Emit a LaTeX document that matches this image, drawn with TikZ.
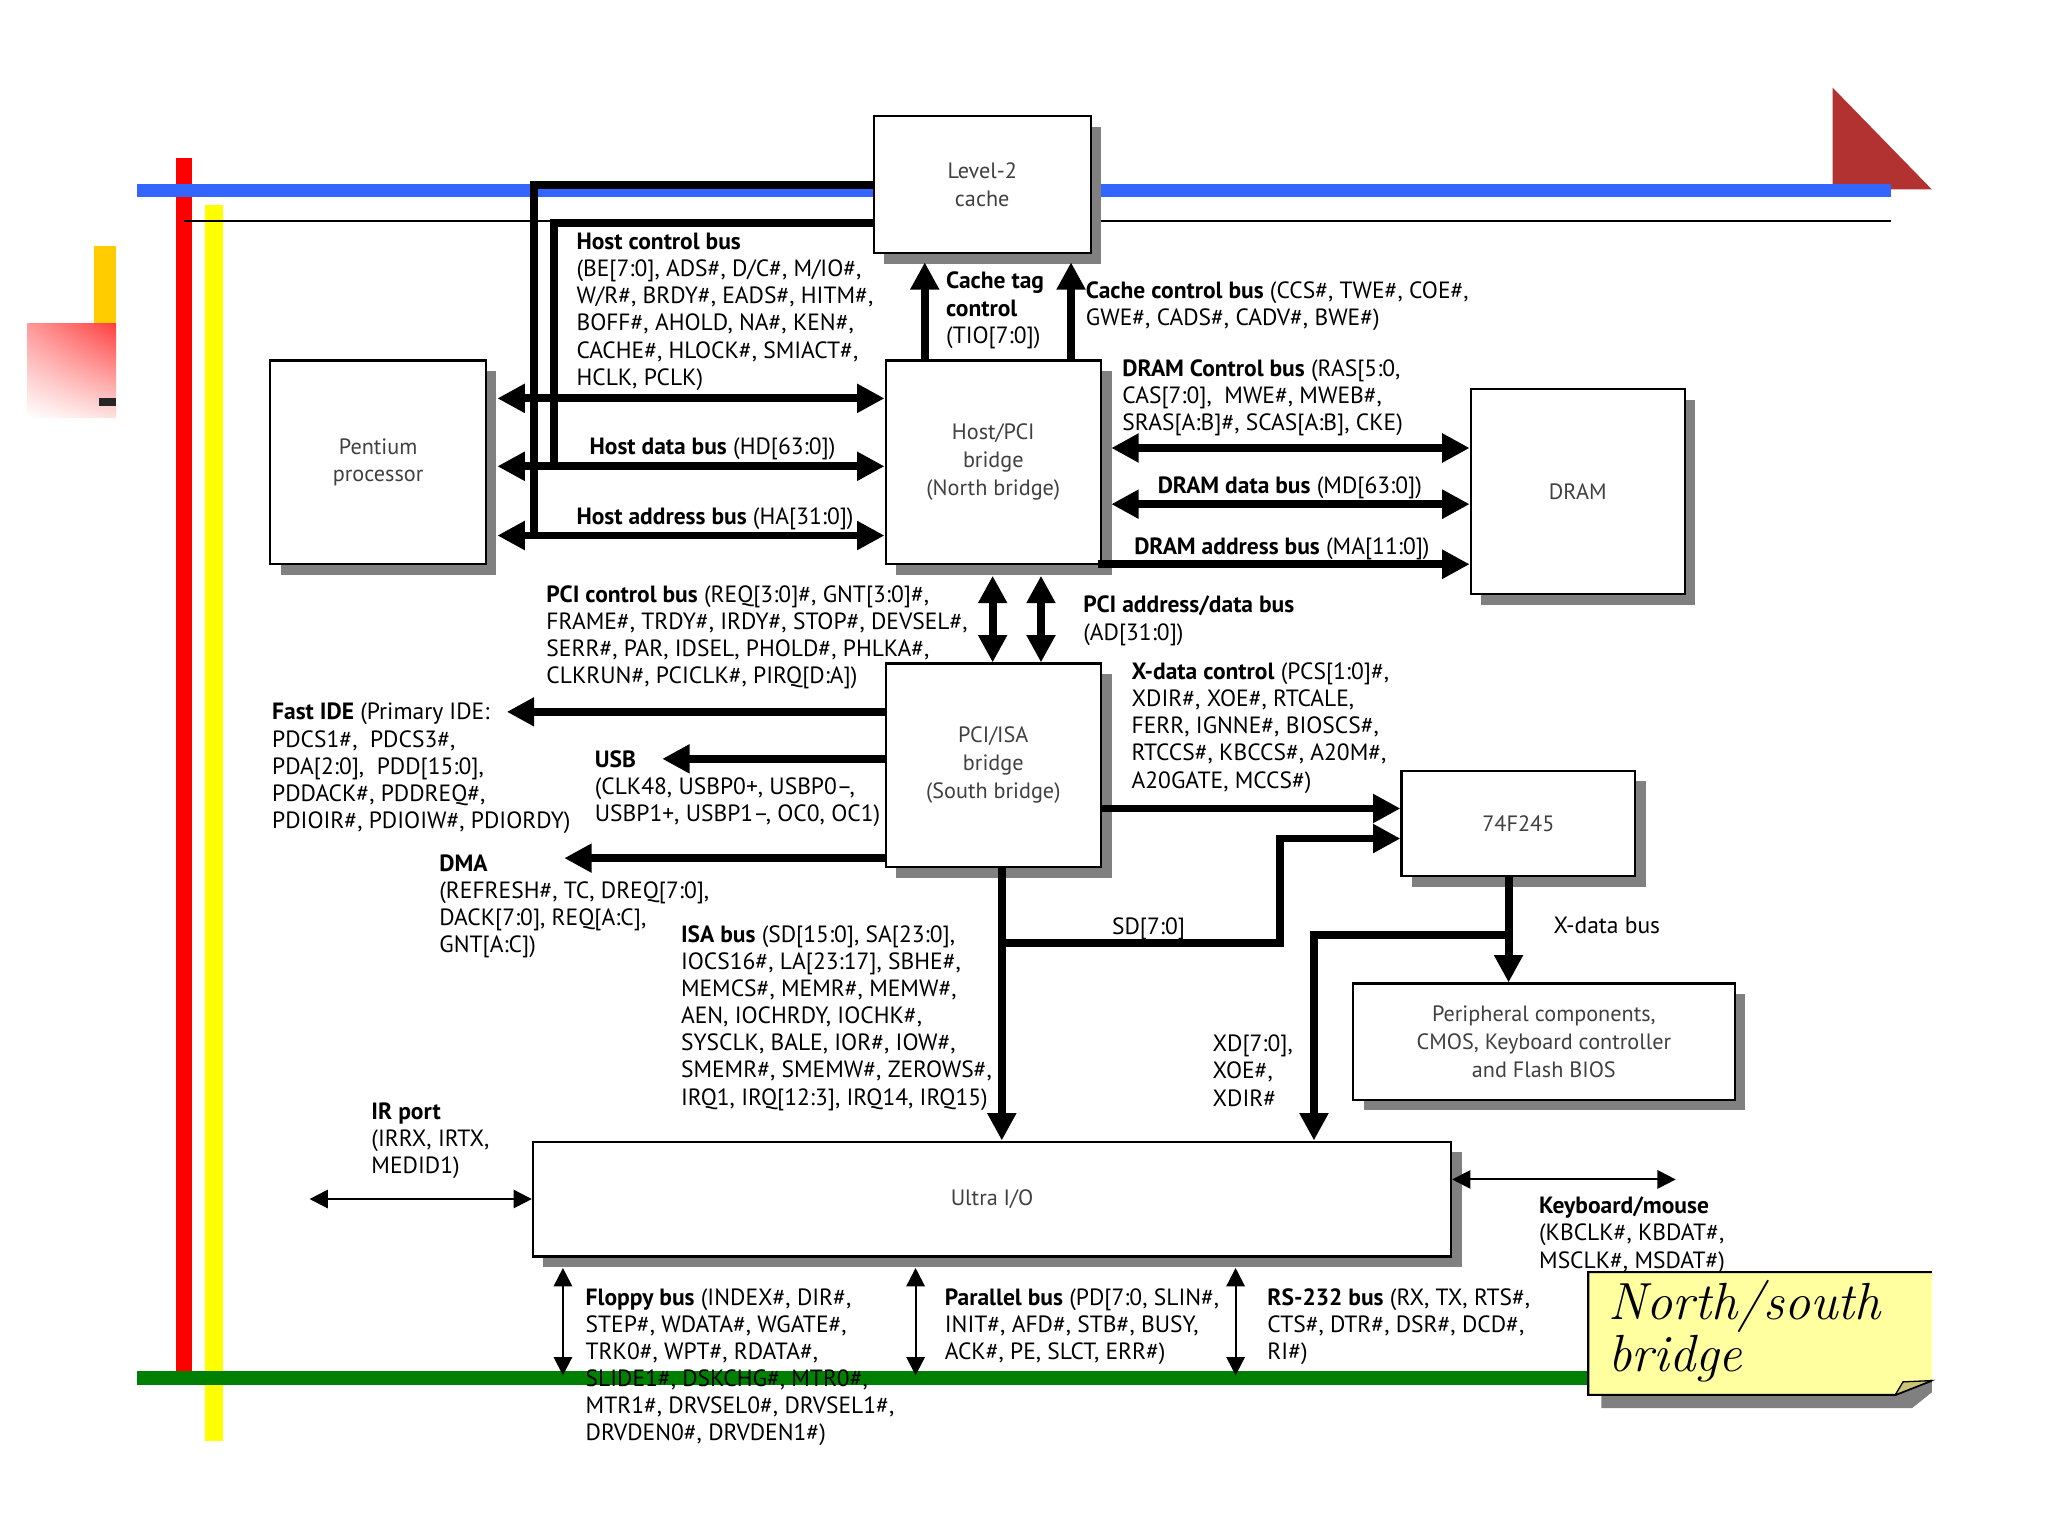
\documentclass[tikz,border=0pt]{standalone}
\usepackage{fontspec}
\newfontfamily\gillfont{PT Sans}
\usetikzlibrary{arrows.meta, calc, shadows, shadings}
\definecolor{slideblue}{RGB}{51, 102, 255}
\definecolor{slidered}{RGB}{255, 0, 0}
\definecolor{slideyellow}{RGB}{255, 255, 0}
\definecolor{slidegreen}{RGB}{0, 128, 0}
\definecolor{slidegold}{RGB}{255, 204, 0}
\definecolor{slidewine}{RGB}{178, 50, 50}
\definecolor{chipshadow}{RGB}{128, 128, 128}
\definecolor{notefill}{RGB}{255, 255, 160}
\definecolor{notefold}{RGB}{205, 195, 120}
\tikzset{
  chip/.style={rectangle, draw=black, line width=0.8pt, fill=white,
               minimum width=#1, inner sep=0pt, align=center, text=black!75,
               font=\gillfont\fontsize{8.5}{10.7}\selectfont,
               drop shadow={shadow xshift=4pt, shadow yshift=-4pt, opacity=1, fill=chipshadow}},
  chip/.default=82.5pt,
  sig/.style={anchor=north west, inner sep=0pt, align=left,
              font=\gillfont\fontsize{9}{10.4}\selectfont},
  bus/.style={line width=3pt, draw=black},
  bus2/.style={bus, {Triangle[length=10.5pt,width=10.5pt]}-{Triangle[length=10.5pt,width=10.5pt]}},
  bus1/.style={bus, -{Triangle[length=10.5pt,width=10.5pt]}},
  wire2/.style={line width=0.8pt, {Triangle[length=7pt,width=7pt]}-{Triangle[length=7pt,width=7pt]}},
}
\begin{document}
\begin{tikzpicture}[x=0.5pt, y=-0.5pt]
\fill[white] (0,0) rectangle (1568,1176);
\useasboundingbox (0,0) rectangle (1568,1176);
% slide decoration
\fill[slidewine] (1403,67) -- (1479,145) -- (1403,145) -- cycle;
\fill[slidegold] (72,188) rectangle (89,248);
\shade[upper left=red!40, upper right=red!75, lower left=white, lower right=red!12] (21,248) rectangle (89,320);
\fill[black!85] (76,305) rectangle (89,311);
\fill[slidered] (135,121) rectangle (147,1050);
\fill[slideyellow] (157,157) rectangle (171,1103);
\fill[slideblue] (105,141) rectangle (1448,151);
\draw[line width=0.7pt] (141,169) -- (1448,169);
\fill[slidegreen] (105,1050) rectangle (1216,1060);

\node[chip=83pt, minimum height=52.5pt] (l2) at (752,141.5) {Level-2\\cache};
\node[chip, minimum height=78pt] (cpu) at (289.5,354) {Pentium\\processor};
\node[chip, minimum height=78pt] (nb) at (760.5,354) {Host/PCI\\bridge\\(North bridge)};
\node[chip=82pt, minimum height=78.5pt] (dram) at (1208,376.5) {DRAM};
\node[chip, minimum height=78pt] (sb) at (760.5,586) {PCI/ISA\\bridge\\(South bridge)};
\node[chip=89.5pt, minimum height=40.5pt] (xbuf) at (1162.5,630.5) {74F245};
\node[chip=146pt, minimum height=44.5pt] (periph) at (1182,797.5) {Peripheral components,\\CMOS, Keyboard controller\\and Flash BIOS};
\node[chip=351.5pt, minimum height=44pt] (uio) at (759.5,918) {Ultra I/O};

% host side
\coordinate (hc) at (0,305);
\coordinate (hd) at (0,357);
\coordinate (ha) at (0,410);
\draw[bus2] ([xshift=4pt]cpu.east |- hc) -- (nb.west |- hc);
\draw[bus2] ([xshift=4pt]cpu.east |- hd) -- (nb.west |- hd);
\draw[bus2] ([xshift=4pt]cpu.east |- ha) -- (nb.west |- ha);
\coordinate (tapA) at (409,410);
\coordinate (tapD) at (424,357);
\draw[bus] (l2.west) -| (tapA);
\draw[bus] ([yshift=-14.75pt]l2.west) -| (tapD);
\draw[bus1] ([xshift=-26.25pt]nb.north) -- ([xshift=-26.25pt, yshift=-3pt]nb.north |- l2.south);
\draw[bus1] ([xshift=29.75pt]nb.north) -- ([xshift=29.75pt, yshift=-3pt]nb.north |- l2.south);

% memory side
\coordinate (mc) at (0,343);
\coordinate (md) at (0,386);
\coordinate (ma) at (0,432);
\draw[bus2] ([xshift=3.5pt]nb.east |- mc) -- (dram.west |- mc);
\draw[bus2] ([xshift=3.5pt]nb.east |- md) -- (dram.west |- md);
\draw[bus1] ([xshift=-1.5pt]nb.east |- ma) -- (dram.west |- ma);

% pci
\draw[bus2] ([xshift=-0.25pt, yshift=-4pt]nb.south) -- ([xshift=-0.25pt]sb.north);
\draw[bus2] ([xshift=18.25pt, yshift=-4pt]nb.south) -- ([xshift=18.25pt]sb.north);

% south bridge
\coordinate (ideEnd) at (388,545);
\coordinate (usbEnd) at (507,581);
\coordinate (dmaEnd) at (432,657);
\draw[bus1] (sb.west |- ideEnd) -- (ideEnd);
\draw[bus1] (sb.west |- usbEnd) -- (usbEnd);
\draw[bus1] (sb.west |- dmaEnd) -- (dmaEnd);
\coordinate (xdc) at (0,619);
\draw[bus1] (sb.east |- xdc) -- (xbuf.west |- xdc);
\draw[bus1] ([xshift=3.25pt]sb.south) -- ([xshift=3.25pt]sb.south |- uio.north);
\coordinate (sdTap) at (767,722);
\draw[bus1] (sdTap) -| ++(213,-80) -- ([yshift=-5.75pt]xbuf.west);
\draw[bus1] ([xshift=-3.75pt]xbuf.south) -- ([xshift=-3.75pt]xbuf.south |- periph.north);
\coordinate (xdTap) at (1155,716);
\draw[bus1] (xdTap) -| ([xshift=123.25pt]uio.north);

% ultra i/o
\coordinate (irEnd) at (237,918);
\coordinate (kbEnd) at (1283,903);
\coordinate (fdEnd) at (431,1053);
\coordinate (ppEnd) at (701,1053);
\coordinate (rsEnd) at (946,1053);
\draw[wire2] (irEnd) -- (uio.west);
\draw[wire2] (uio.east |- kbEnd) -- (kbEnd);
\draw[wire2] ([yshift=-4pt]uio.south -| fdEnd) -- (fdEnd);
\draw[wire2] ([yshift=-4pt]uio.south -| ppEnd) -- (ppEnd);
\draw[wire2] ([yshift=-4pt]uio.south -| rsEnd) -- (rsEnd);

\node[sig] (hcLbl) at (441,178) {\textbf{Host control bus}\\(BE[7:0], ADS\#, D/C\#, M/IO\#,\\W/R\#, BRDY\#, EADS\#, HITM\#,\\BOFF\#, AHOLD, NA\#, KEN\#,\\CACHE\#, HLOCK\#, SMIACT\#,\\HCLK, PCLK)};
\node[sig] (hdLbl) at (451,335) {\textbf{Host data bus} (HD[63:0])};
\node[sig] (haLbl) at (441,388) {\textbf{Host address bus} (HA[31:0])};
\node[sig] (ctagLbl) at (724,208) {\textbf{Cache tag}\\\textbf{control}\\(TIO[7:0])};
\node[sig] (cctlLbl) at (831,215) {\textbf{Cache control bus} (CCS\#, TWE\#, COE\#,\\GWE\#, CADS\#, CADV\#, BWE\#)};
\node[sig] (mcLbl) at (859,275) {\textbf{DRAM Control bus} (RAS[5:0,\\CAS[7:0],~~MWE\#, MWEB\#,\\SRAS[A:B]\#, SCAS[A:B], CKE)};
\node[sig] (mdLbl) at (886,365) {\textbf{DRAM data bus} (MD[63:0])};
\node[sig] (maLbl) at (868,411) {\textbf{DRAM address bus} (MA[11:0])};
\node[sig] (pcLbl) at (418,448) {\textbf{PCI control bus} (REQ[3:0]\#, GNT[3:0]\#,\\FRAME\#, TRDY\#, IRDY\#, STOP\#, DEVSEL\#,\\SERR\#, PAR, IDSEL, PHOLD\#, PHLKA\#,\\CLKRUN\#, PCICLK\#, PIRQ[D:A])};
\node[sig] (adLbl) at (829,456) {\textbf{PCI address/data bus}\\(AD[31:0])};
\node[sig] (ideLbl) at (208,538) {\textbf{Fast IDE} (Primary IDE:\\PDCS1\#,~~PDCS3\#,\\PDA[2:0],~~PDD[15:0],\\PDDACK\#, PDDREQ\#,\\PDIOIR\#, PDIOIW\#, PDIORDY)};
\node[sig] (usbLbl) at (455,574) {\textbf{USB}\\(CLK48, USBP0+, USBP0–,\\USBP1+, USBP1–, OC0, OC1)};
\node[sig] (dmaLbl) at (336,654) {\textbf{DMA}\\(REFRESH\#, TC, DREQ[7:0],\\DACK[7:0], REQ[A:C],\\GNT[A:C])};
\node[sig] (xdcLbl) at (866,507) {\textbf{X-data control} (PCS[1:0]\#,\\XDIR\#, XOE\#, RTCALE,\\FERR, IGNNE\#, BIOSCS\#,\\RTCCS\#, KBCCS\#, A20M\#,\\A20GATE, MCCS\#)};
\node[sig] (isaLbl) at (521,708) {\textbf{ISA bus} (SD[15:0], SA[23:0],\\IOCS16\#, LA[23:17], SBHE\#,\\MEMCS\#, MEMR\#, MEMW\#,\\AEN, IOCHRDY, IOCHK\#,\\SYSCLK, BALE, IOR\#, IOW\#,\\SMEMR\#, SMEMW\#, ZEROWS\#,\\IRQ1, IRQ[12:3], IRQ14, IRQ15)};
\node[sig] (sdLbl) at (851,702) {SD[7:0]};
\node[sig] (xbLbl) at (1189,702) {X-data bus};
\node[sig] (xdLbl) at (928,792) {XD[7:0],\\XOE\#,\\XDIR\#};
\node[sig] (irLbl) at (284,844) {\textbf{IR port}\\(IRRX, IRTX,\\MEDID1)};
\node[sig] (kbLbl) at (1178,916) {\textbf{Keyboard/mouse}\\(KBCLK\#, KBDAT\#,\\MSCLK\#, MSDAT\#)};
\node[sig] (fdLbl) at (448,986) {\textbf{Floppy bus} (INDEX\#, DIR\#,\\STEP\#, WDATA\#, WGATE\#,\\TRK0\#, WPT\#, RDATA\#,\\SLIDE1\#, DSKCHG\#, MTR0\#,\\MTR1\#, DRVSEL0\#, DRVSEL1\#,\\DRVDEN0\#, DRVDEN1\#)};
\node[sig] (ppLbl) at (723,986) {\textbf{Parallel bus} (PD[7:0, SLIN\#,\\INIT\#, AFD\#, STB\#, BUSY,\\ACK\#, PE, SLCT, ERR\#)};
\node[sig] (rsLbl) at (970,986) {\textbf{RS-232 bus} (RX, TX, RTS\#,\\CTS\#, DTR\#, DSR\#, DCD\#,\\RI\#)};

% sticky note
\fill[chipshadow] (1226,984) -- (1479,984) -- (1479,1066) -- (1464,1078) -- (1226,1078) -- cycle;
\filldraw[fill=notefill, draw=black, line width=0.8pt] (1479,974) -- (1216,974) -- (1216,1068) -- (1451,1068) -- (1479,1057);
\filldraw[fill=notefold, draw=black, line width=0.5pt] (1451,1068) -- (1457,1058) -- (1479,1057) -- cycle;
\node[anchor=north west, inner sep=0pt, align=left, font=\rmfamily\itshape\fontsize{20}{20}\selectfont] (noteTxt) at (1231,980) {North/south\\bridge};
\end{tikzpicture}
\end{document}
